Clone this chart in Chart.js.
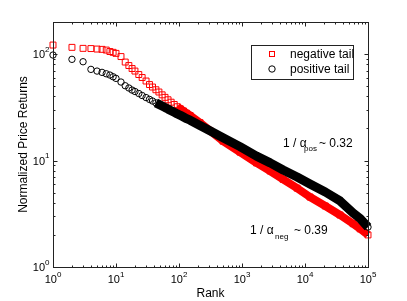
<!DOCTYPE html>
<html>
<head>
<meta charset="utf-8">
<script src="https://cdn.jsdelivr.net/npm/chart.js@4.4.0/dist/chart.umd.min.js"></script>
<style>
  body { margin: 0; background: #fff; }
</style>
</head>
<body>
<canvas id="myChart" width="407" height="301"></canvas>
<script>
// values
var rank = [1, 2, 3, 4, 5, 6, 7, 8, 9, 10, 12, 14, 16, 18, 20, 23, 26, 30, 34, 38, 43, 48, 54, 60,
  67, 75, 84, 94, 105, 118, 132, 150, 215, 310, 500, 930, 1700, 2800, 4500, 7500, 12000, 21000,
  36000, 58000, 75000, 100000];
var negTail = [121.5, 115.6, 113.1, 112.6, 111.4, 110.7, 109.0, 105.6, 103.8, 101.5, 94.7, 84.1,
  78.0, 73.1, 69.2, 64.2, 60.2, 55.8, 51.7, 49.0, 46.2, 44.0, 41.4, 39.2, 37.2, 35.3, 33.6, 32.0,
  30.6, 29.2, 27.8, 26.5, 22.7, 19.1, 15.2, 12.0, 9.5, 7.97, 6.65, 5.5, 4.54, 3.74, 3.08, 2.55,
  2.28, 2.0];
var posTail = [97.9, 89.2, 84.7, 71.8, 69.2, 67.3, 65.3, 63.5, 61.2, 59.1, 54.6, 50.4, 48.0, 45.9,
  44.5, 42.6, 40.8, 39.0, 37.5, 36.2, 34.8, 33.7, 32.5, 31.5, 30.4, 29.4, 28.4, 27.4, 26.6, 25.6,
  24.7, 23.9, 21.3, 19.0, 16.4, 13.5, 11.0, 9.5, 8.14, 7.0, 6.02, 5.06, 4.17, 3.21, 2.85, 2.37];
var seriesNames = ["negative tail", "positive tail"];
var xTicks = [1, 10, 100, 1000, 10000, 100000];
var xExps = ["0", "1", "2", "3", "4", "5"];
var yTicks = [1, 10, 100];
var yExps = ["0", "1", "2"];
var posFit = "0.32";
var negFit = "0.39";

var FONT = '"Liberation Sans", Arial, sans-serif';

function toPoints(vals, minRank) {
  var pts = [];
  rank.forEach(function (r, i) {
    if (r >= minRank) pts.push({ x: r, y: vals[i] });
  });
  return pts;
}

var decor = {
  id: "decor",
  afterDatasetsDraw: function (chart) {
    var ctx = chart.ctx;
    var a = chart.chartArea;
    var xs = chart.scales.x;
    var ys = chart.scales.y;
    ctx.save();
    ctx.strokeStyle = "#222";
    ctx.lineWidth = 1;
    var L = Math.round(a.left) + 0.5, R = Math.round(a.right) + 0.5;
    var T = Math.round(a.top) + 0.5, B = Math.round(a.bottom) + 0.5;
    ctx.strokeRect(L, T, R - L, B - T);

    // inward ticks, all four sides
    ctx.beginPath();
    for (var d = 1; d < 100000; d *= 10) {
      for (var k = 1; k <= 9; k++) {
        var px = Math.round(xs.getPixelForValue(d * k)) + 0.5;
        var len = k == 1 ? 4 : 2;
        ctx.moveTo(px, B); ctx.lineTo(px, B - len);
        ctx.moveTo(px, T); ctx.lineTo(px, T + len);
      }
    }
    for (var d2 = 1; d2 <= 100; d2 *= 10) {
      for (var k2 = 1; k2 <= 9; k2++) {
        var v = d2 * k2;
        if (v >= 200) break;
        var py = Math.round(ys.getPixelForValue(v)) + 0.5;
        var len2 = k2 == 1 ? 4 : 2;
        ctx.moveTo(L, py); ctx.lineTo(L + len2, py);
        ctx.moveTo(R, py); ctx.lineTo(R - len2, py);
      }
    }
    ctx.stroke();

    // tick labels 10^n
    ctx.fillStyle = "#000";
    ctx.textAlign = "left";
    ctx.textBaseline = "alphabetic";
    xTicks.forEach(function (t, i) {
      var px = xs.getPixelForValue(t);
      ctx.font = "11px " + FONT;
      var w1 = ctx.measureText("10").width;
      ctx.font = "8px " + FONT;
      var w2 = ctx.measureText(xExps[i]).width;
      var sx = px - (w1 + w2) / 2;
      ctx.font = "11px " + FONT;
      ctx.fillText("10", sx, 283);
      ctx.font = "8px " + FONT;
      ctx.fillText(xExps[i], sx + w1, 277);
    });
    yTicks.forEach(function (t, i) {
      var py = ys.getPixelForValue(t);
      ctx.font = "11px " + FONT;
      var w1 = ctx.measureText("10").width;
      ctx.font = "8px " + FONT;
      var w2 = ctx.measureText(yExps[i]).width;
      var sx = 49.5 - w1 - w2;
      ctx.font = "11px " + FONT;
      ctx.fillText("10", sx, py + 4);
      ctx.font = "8px " + FONT;
      ctx.fillText(yExps[i], sx + w1, py - 2.5);
    });

    // axis titles
    ctx.font = "12px " + FONT;
    ctx.textAlign = "center";
    ctx.fillText("Rank", (a.left + a.right) / 2, 297);
    ctx.save();
    ctx.translate(26.5, 144.5);
    ctx.rotate(-Math.PI / 2);
    ctx.fillText("Normalized Price Returns", 0, 0);
    ctx.restore();

    // legend
    ctx.fillStyle = "#fff";
    ctx.fillRect(251.5, 45.5, 102, 34);
    ctx.strokeStyle = "#222";
    ctx.strokeRect(251.5, 45.5, 102, 34);
    ctx.strokeStyle = "#ff0000";
    ctx.strokeRect(269.5, 51.5, 5, 5);
    ctx.strokeStyle = "#000";
    ctx.beginPath();
    ctx.arc(272, 69, 3.2, 0, Math.PI * 2);
    ctx.stroke();
    ctx.fillStyle = "#000";
    ctx.textAlign = "left";
    ctx.font = "12px " + FONT;
    ctx.fillText(seriesNames[0], 290, 58);
    ctx.fillText(seriesNames[1], 290, 73);

    // fit annotations
    ctx.font = "12px " + FONT;
    ctx.fillText("1 / \u03b1", 283, 147);
    ctx.fillText("~ " + posFit, 319, 147);
    ctx.fillText("1 / \u03b1", 250, 234);
    ctx.fillText("~ " + negFit, 294, 234);
    ctx.font = "8px " + FONT;
    ctx.fillText("pos", 304, 151);
    ctx.fillText("neg", 275, 238.5);
    ctx.restore();
  },
};

var chart = new Chart(document.getElementById("myChart"), {
  type: "scatter",
  data: {
    datasets: [
      {
        label: seriesNames[0],
        data: toPoints(negTail, 0),
        pointStyle: "rect",
        pointRadius: 4.2,
        pointBorderWidth: 1,
        borderColor: "#ff0000",
        backgroundColor: "rgba(0,0,0,0)",
        clip: false,
        order: 2,
      },
      {
        label: seriesNames[0],
        data: toPoints(negTail, 90),
        showLine: true,
        pointRadius: 0,
        borderWidth: 8,
        borderColor: "#ff0000",
        borderJoinStyle: "round",
        clip: false,
        order: 3,
      },
      {
        label: seriesNames[1],
        data: toPoints(posTail, 0),
        pointStyle: "circle",
        pointRadius: 3.2,
        pointBorderWidth: 1,
        borderColor: "#000",
        backgroundColor: "rgba(0,0,0,0)",
        clip: false,
        order: 0,
      },
      {
        label: seriesNames[1],
        data: toPoints(posTail, 40),
        showLine: true,
        pointRadius: 0,
        borderWidth: 9,
        borderColor: "#000",
        borderJoinStyle: "round",
        clip: false,
        order: 1,
      },
    ],
  },
  options: {
    responsive: false,
    animation: false,
    layout: { padding: { left: 53, right: 39, top: 22, bottom: 34 } },
    plugins: { legend: { display: false }, tooltip: { enabled: false } },
    scales: {
      x: { type: "logarithmic", min: 1, max: 100000, display: false },
      y: { type: "logarithmic", min: 1, max: 200, display: false },
    },
  },
  plugins: [decor],
});
</script>
</body>
</html>
